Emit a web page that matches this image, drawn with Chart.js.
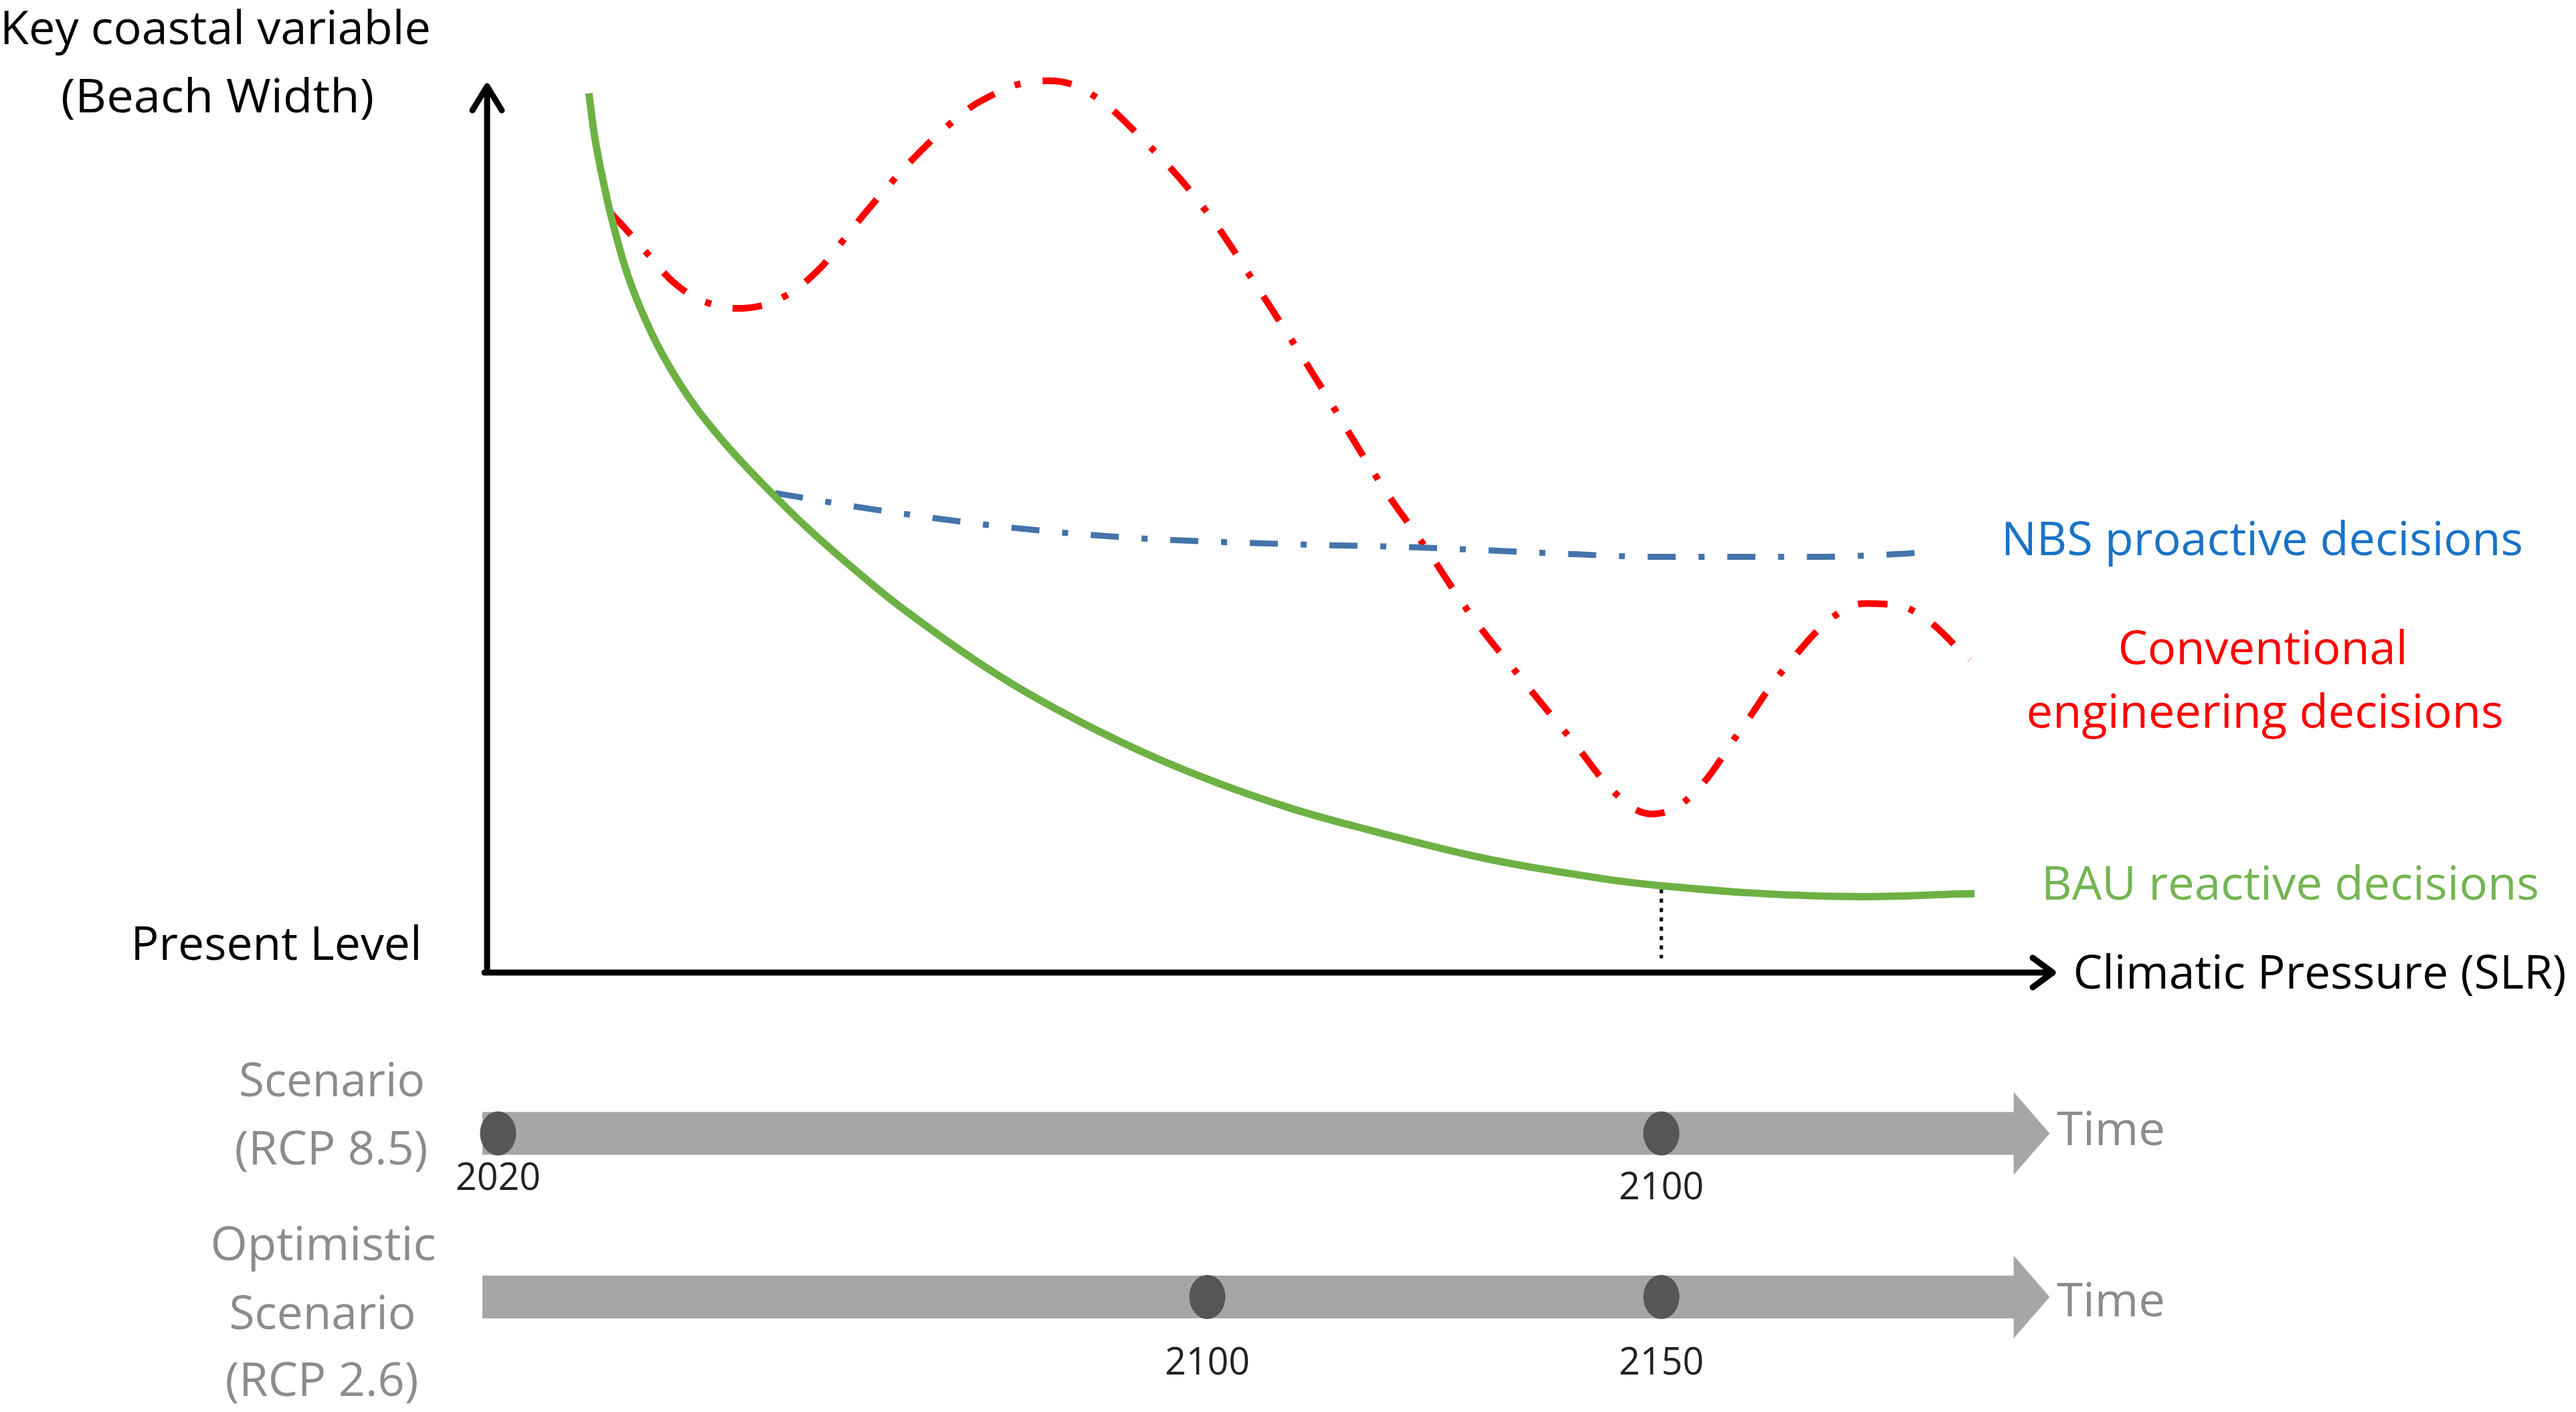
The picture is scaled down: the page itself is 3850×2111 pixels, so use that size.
<!DOCTYPE html>
<html>
<head>
<meta charset="utf-8">
<script src="https://cdn.jsdelivr.net/npm/chart.js@4.4.0/dist/chart.umd.min.js"></script>
<style>
  html, body { margin: 0; padding: 0; background: #ffffff; }
  canvas { display: block; }
</style>
</head>
<body>
<canvas id="chart" width="3850" height="2111"></canvas>
<script>
// Climatic pressure (x, 0-100 along the axis) and beach width (y, 0-100 up the axis)
const bauPressure = [6.5, 6.9, 7.5, 8.1, 9.0, 10.2, 11.5, 13.2, 15.1, 17.4, 20.5, 24.4, 26.9, 31.8, 36.7, 41.6, 46.5, 51.4, 56.3, 62.9, 68.0, 75.0, 86.0, 95.0];
const bauWidth    = [99.2, 94.0, 88.6, 84.1, 78.6, 73.3, 68.8, 64.1, 59.9, 55.5, 50.1, 44.1, 40.6, 34.5, 29.4, 25.1, 21.5, 18.5, 16.1, 13.2, 11.5, 9.8, 8.6, 8.9];

const convPressure = [7.9, 9.0, 10.3, 12.1, 14.2, 16.7, 19.0, 21.0, 22.6, 24.1, 25.9, 27.7, 29.6, 31.7, 34.8, 38.0, 42.1, 45.8, 49.1, 52.8, 57.1, 60.0, 62.9, 66.0, 69.2, 72.5, 74.6, 77.0, 80.0, 83.0, 86.6, 89.0, 91.4, 94.7];
const convWidth    = [85.7, 83.6, 81.0, 77.6, 75.5, 75.0, 76.3, 79.0, 82.3, 85.6, 89.3, 92.7, 95.8, 98.5, 100.5, 99.7, 93.6, 86.2, 77.6, 67.4, 55.1, 47.8, 40.2, 33.3, 26.4, 19.5, 17.9, 20.1, 27.2, 34.6, 40.9, 41.6, 40.5, 35.3];

const nbsPressure = [18.4, 24.9, 33.5, 41.7, 51.9, 59.0, 69.5, 74.6, 84.5, 89.9, 92.3];
const nbsWidth    = [54.1, 52.2, 50.2, 49.0, 48.3, 48.0, 47.2, 46.9, 46.9, 47.2, 47.5];

// 2100 marker under RCP 8.5, dropped from the BAU curve
const markerPressure = [75.0, 75.0];
const markerWidth    = [9.4, 1.6];

// Timeline markers (year labels and where they sit on the pressure axis)
const rcp85Years    = ['2020', '2100'];
const rcp85Pressure = [0.7, 75.0];
const rcp26Years    = ['2100', '2150'];
const rcp26Pressure = [46.0, 75.0];

function toPoints(xs, ys) {
    return xs.map((x, i) => ({ x: x, y: ys[i] }));
}

// Draw text centred on cx, squeezed/stretched to a given width
function drawLabel(ctx, text, cx, baseline, width, size, color) {
    ctx.save();
    ctx.font = size + 'px "Open Sans", "Noto Sans", sans-serif';
    const w = ctx.measureText(text).width;
    ctx.translate(cx, baseline);
    ctx.scale(width / w, 1);
    ctx.textAlign = 'center';
    ctx.textBaseline = 'alphabetic';
    ctx.fillStyle = color;
    ctx.fillText(text, 0, 0);
    ctx.restore();
}

function drawTimeline(ctx, xScale, yScale, rowValue, years, pressures, yearBaselines) {
    const yc = yScale.getPixelForValue(rowValue);
    const left = xScale.getPixelForValue(-0.3);
    const headBase = xScale.getPixelForValue(97.5);
    const tip = xScale.getPixelForValue(99.8);

    ctx.save();
    ctx.fillStyle = '#a6a6a6';
    ctx.beginPath();
    ctx.moveTo(left, yc - 32);
    ctx.lineTo(headBase, yc - 32);
    ctx.lineTo(headBase, yc - 62);
    ctx.lineTo(tip, yc);
    ctx.lineTo(headBase, yc + 62);
    ctx.lineTo(headBase, yc + 32);
    ctx.lineTo(left, yc + 32);
    ctx.closePath();
    ctx.fill();

    ctx.fillStyle = '#565656';
    pressures.forEach((p, i) => {
        const x = xScale.getPixelForValue(p);
        ctx.beginPath();
        ctx.ellipse(x, yc, 27, 33, 0, 0, Math.PI * 2);
        ctx.fill();
        drawLabel(ctx, years[i], x, yearBaselines[i], 127, 57, '#222222');
    });
    ctx.restore();
}

const diagramPlugin = {
    id: 'diagram',
    beforeDatasetsDraw(chart) {
        const ctx = chart.ctx;
        const area = chart.chartArea;
        const xScale = chart.scales.x;
        const yScale = chart.scales.y;
        const x0 = xScale.getPixelForValue(0);
        const y0 = yScale.getPixelForValue(0);

        // Axes with open arrow heads
        ctx.save();
        ctx.strokeStyle = '#000000';
        ctx.lineWidth = 9;
        ctx.lineCap = 'round';
        ctx.lineJoin = 'round';
        ctx.beginPath();
        ctx.moveTo(x0, y0);
        ctx.lineTo(x0, area.top);
        ctx.moveTo(x0 - 22, area.top + 36);
        ctx.lineTo(x0, area.top);
        ctx.lineTo(x0 + 22, area.top + 36);
        ctx.moveTo(x0 - 4, y0);
        ctx.lineTo(area.right, y0);
        ctx.moveTo(area.right - 30, y0 - 22);
        ctx.lineTo(area.right, y0);
        ctx.lineTo(area.right - 30, y0 + 22);
        ctx.stroke();
        ctx.restore();

        // Scenario timelines below the diagram
        drawTimeline(ctx, xScale, yScale, -18.15, rcp85Years, rcp85Pressure, [1779, 1793]);
        drawTimeline(ctx, xScale, yScale, -36.6, rcp26Years, rcp26Pressure, [2055, 2055]);
    },
    afterDatasetsDraw(chart) {
        const ctx = chart.ctx;
        const red = '#ff0000';
        const gray = '#8c8c8c';
        const labels = [
            ['Key coastal variable', 322, 66, 644, '#000000'],
            ['(Beach Width)', 325, 168, 468, '#000000'],
            ['NBS proactive decisions', 3381, 830, 780, '#1a73c6'],
            ['Conventional', 3382, 993, 433, red],
            ['engineering decisions', 3385, 1088, 713, red],
            ['BAU reactive decisions', 3423, 1345, 744, '#74b552'],
            ['Present Level', 413, 1435, 435, '#000000'],
            ['Climatic Pressure (SLR)', 3467, 1478, 737, '#000000'],
            ['Scenario', 496, 1639, 278, gray],
            ['(RCP 8.5)', 495, 1741, 289, gray],
            ['Optimistic', 483, 1884, 337, gray],
            ['Scenario', 482, 1987, 279, gray],
            ['(RCP 2.6)', 481, 2087, 289, gray],
            ['Time', 3155, 1712, 162, gray],
            ['Time', 3155, 1968, 162, gray]
        ];
        labels.forEach(l => drawLabel(ctx, l[0], l[1], l[2], l[3], 70, l[4]));
    }
};

const chart = new Chart(document.getElementById('chart'), {
    type: 'line',
    data: {
        datasets: [
            {
                label: 'BAU reactive decisions',
                data: toPoints(bauPressure, bauWidth),
                borderColor: '#6db144',
                borderWidth: 11,
                tension: 0.4,
                pointRadius: 0,
                clip: false
            },
            {
                label: 'NBS proactive decisions',
                data: toPoints(nbsPressure, nbsWidth),
                borderColor: '#4374aa',
                borderWidth: 9,
                borderDash: [42, 34, 9, 34],
                cubicInterpolationMode: 'monotone',
                pointRadius: 0,
                clip: false
            },
            {
                label: 'Conventional engineering decisions',
                data: toPoints(convPressure, convWidth),
                borderColor: '#ff0000',
                borderWidth: 10,
                borderDash: [44, 33, 9, 33],
                tension: 0.4,
                pointRadius: 0,
                clip: false
            },
            {
                label: '2100 marker',
                data: toPoints(markerPressure, markerWidth),
                borderColor: '#000000',
                borderWidth: 5,
                borderDash: [6, 8],
                pointRadius: 0,
                clip: false
            }
        ]
    },
    options: {
        responsive: false,
        devicePixelRatio: 1,
        animation: false,
        events: [],
        layout: {
            padding: { left: 728, right: 782, top: 129, bottom: 657 }
        },
        plugins: {
            legend: { display: false },
            tooltip: { enabled: false }
        },
        scales: {
            x: { type: 'linear', min: 0, max: 100, display: false },
            y: { type: 'linear', min: 0, max: 100, display: false }
        }
    },
    plugins: [diagramPlugin]
});
</script>
</body>
</html>
